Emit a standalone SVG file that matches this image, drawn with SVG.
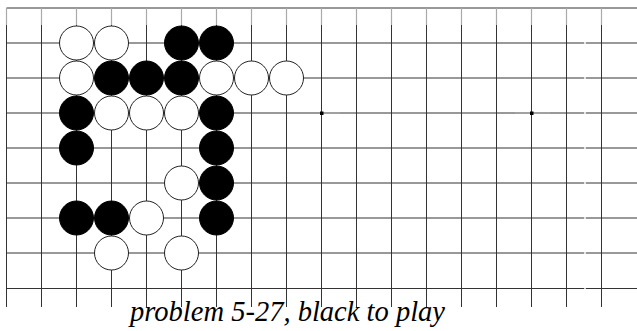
<svg xmlns="http://www.w3.org/2000/svg" width="637" height="331" viewBox="0 0 637 331">
<style>
.g{stroke:#333;stroke-width:1;fill:none}
.t{stroke:#aaa;stroke-width:1.2}
.b{fill:#000;stroke:#000;stroke-width:1}
.w{fill:#fff;stroke:#222;stroke-width:1}
.cap{font-family:"Liberation Serif",serif;font-style:italic;font-size:29px;fill:#000}
</style>
<rect width="637" height="331" fill="#fff"/>
<g id="connectors">
<line class="g" x1="6.5" y1="8" x2="637" y2="8" stroke="#000"/>
<path class="g" d="M6.5 43H637M6.5 78H637M6.5 113H637M6.5 148H637M6.5 183H637M6.5 218H637M6.5 253H637M6.5 288.5H637"/>
<path class="g" d="M6.5 25V307M41.5 25V307M76.5 25V307M111.5 25V307M146.5 25V307M181.5 25V307M216.5 25V307M251.5 25V307M286.5 25V307M321.5 25V307M356.5 25V307M391.5 25V307M426.5 25V307M461.5 25V307M496.5 25V307M531.5 25V307M566.5 25V307M601.5 25V307"/>
<path class="t" d="M6.5 8V25M41.5 8V25M76.5 8V25M111.5 8V25M146.5 8V25M181.5 8V25M216.5 8V25M251.5 8V25M286.5 8V25M321.5 8V25M356.5 8V25M391.5 8V25M426.5 8V25M461.5 8V25M496.5 8V25M531.5 8V25M566.5 8V25M601.5 8V25"/>
<path d="M585 40V292" stroke="#fff" stroke-width="1.5"/>
<path class="t" d="M322 113H340M515 113H550"/>
<rect x="320" y="111.5" width="3.5" height="3.5" fill="#000"/>
<rect x="530" y="111.5" width="3.5" height="3.5" fill="#000"/>
</g>
<g id="stones">
<circle id="w1" class="w" cx="76.5" cy="43" r="17"/>
<circle id="w2" class="w" cx="111.5" cy="43" r="17"/>
<circle id="b1" class="b" cx="181.5" cy="43" r="17"/>
<circle id="b2" class="b" cx="216.5" cy="43" r="17"/>
<circle id="w3" class="w" cx="76.5" cy="78" r="17"/>
<circle id="b3" class="b" cx="111.5" cy="78" r="17"/>
<circle id="b4" class="b" cx="146.5" cy="78" r="17"/>
<circle id="b5" class="b" cx="181.5" cy="78" r="17"/>
<circle id="w4" class="w" cx="216.5" cy="78" r="17"/>
<circle id="w5" class="w" cx="251.5" cy="78" r="17"/>
<circle id="w6" class="w" cx="286.5" cy="78" r="17"/>
<circle id="b6" class="b" cx="76.5" cy="113" r="17"/>
<circle id="w7" class="w" cx="111.5" cy="113" r="17"/>
<circle id="w8" class="w" cx="146.5" cy="113" r="17"/>
<circle id="w9" class="w" cx="181.5" cy="113" r="17"/>
<circle id="b7" class="b" cx="216.5" cy="113" r="17"/>
<circle id="b8" class="b" cx="76.5" cy="148" r="17"/>
<circle id="b9" class="b" cx="216.5" cy="148" r="17"/>
<circle id="w10" class="w" cx="181.5" cy="183" r="17"/>
<circle id="b10" class="b" cx="216.5" cy="183" r="17"/>
<circle id="b11" class="b" cx="76.5" cy="218" r="17"/>
<circle id="b12" class="b" cx="111.5" cy="218" r="17"/>
<circle id="w11" class="w" cx="146.5" cy="218" r="17"/>
<circle id="b13" class="b" cx="216.5" cy="218" r="17"/>
<circle id="w12" class="w" cx="111.5" cy="253" r="17"/>
<circle id="w13" class="w" cx="181.5" cy="253" r="17"/>
</g>
<g id="caption">
<text class="cap" x="130" y="321" textLength="315" lengthAdjust="spacingAndGlyphs">problem 5-27, black to play</text>
</g>
</svg>
